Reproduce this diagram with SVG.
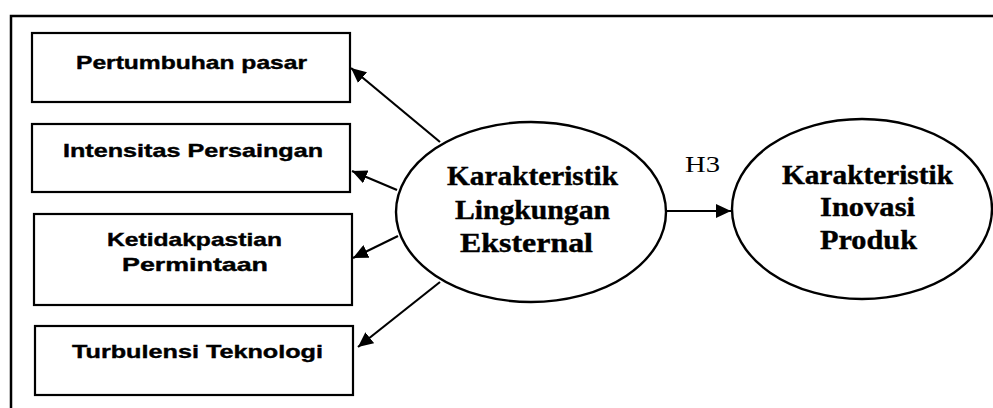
<svg xmlns="http://www.w3.org/2000/svg" width="993" height="408" viewBox="0 0 993 408">
  <defs>
    <marker id="ah" markerUnits="userSpaceOnUse" markerWidth="16" markerHeight="14" refX="15" refY="7" orient="auto">
      <path d="M0,0 L15,7 L0,14 Z" fill="#000"/>
    </marker>
    <style>
      .box { fill: #fff; stroke: #000; stroke-width: 2.2; }
      .ell { fill: #fff; stroke: #000; stroke-width: 2.4; }
      .bt { font-family: "Liberation Sans", Arial, sans-serif; font-weight: bold; font-size: 19px; fill: #000; stroke: #000; stroke-width: 0.4; }
      .et { font-family: "Liberation Serif", "Times New Roman", serif; font-weight: bold; font-size: 27px; fill: #000; stroke: #000; stroke-width: 0.4; }
      .lab { font-family: "Liberation Serif", "Times New Roman", serif; font-size: 24px; fill: #000; }
      .con { stroke: #000; stroke-width: 2.2; fill: none; }
    </style>
  </defs>
  <rect width="993" height="408" fill="#fff"/>
  <path d="M11,408 L11,16 L993,16" fill="none" stroke="#000" stroke-width="2.5"/>

  <g id="box-pertumbuhan">
    <rect class="box" x="32" y="33" width="318" height="69"/>
    <text class="bt" x="76" y="69" textLength="231" lengthAdjust="spacingAndGlyphs">Pertumbuhan pasar</text>
  </g>
  <g id="box-intensitas">
    <rect class="box" x="32" y="124" width="318" height="68"/>
    <text class="bt" x="63" y="157" textLength="260" lengthAdjust="spacingAndGlyphs">Intensitas Persaingan</text>
  </g>
  <g id="box-ketidakpastian">
    <rect class="box" x="34" y="214" width="318" height="91"/>
    <text class="bt" x="107" y="246" textLength="175" lengthAdjust="spacingAndGlyphs">Ketidakpastian</text>
    <text class="bt" x="122" y="271" textLength="146" lengthAdjust="spacingAndGlyphs">Permintaan</text>
  </g>
  <g id="box-turbulensi">
    <rect class="box" x="35" y="326" width="318" height="69"/>
    <text class="bt" x="72" y="358" textLength="251" lengthAdjust="spacingAndGlyphs">Turbulensi Teknologi</text>
  </g>

  <g id="ell-lingkungan">
    <ellipse class="ell" cx="531" cy="212" rx="135" ry="90"/>
    <text class="et" x="447" y="185" textLength="171" lengthAdjust="spacingAndGlyphs">Karakteristik</text>
    <text class="et" x="455" y="219" textLength="155" lengthAdjust="spacingAndGlyphs">Lingkungan</text>
    <text class="et" x="460" y="252" textLength="133" lengthAdjust="spacingAndGlyphs">Eksternal</text>
  </g>
  <g id="ell-inovasi">
    <ellipse class="ell" cx="862" cy="209" rx="130" ry="90"/>
    <text class="et" x="782" y="184" textLength="171" lengthAdjust="spacingAndGlyphs">Karakteristik</text>
    <text class="et" x="820" y="216" textLength="95" lengthAdjust="spacingAndGlyphs">Inovasi</text>
    <text class="et" x="820" y="249" textLength="97" lengthAdjust="spacingAndGlyphs">Produk</text>
  </g>

  <g id="connectors">
    <line class="con" x1="440" y1="142" x2="351" y2="68" marker-end="url(#ah)"/>
    <line class="con" x1="397" y1="190" x2="352" y2="171" marker-end="url(#ah)"/>
    <line class="con" x1="398" y1="236" x2="353" y2="258" marker-end="url(#ah)"/>
    <line class="con" x1="440" y1="282" x2="358" y2="347" marker-end="url(#ah)"/>
    <line class="con" x1="665" y1="211" x2="731" y2="211" marker-end="url(#ah)"/>
    <text class="lab" x="685" y="172" textLength="35" lengthAdjust="spacingAndGlyphs">H3</text>
  </g>
</svg>
